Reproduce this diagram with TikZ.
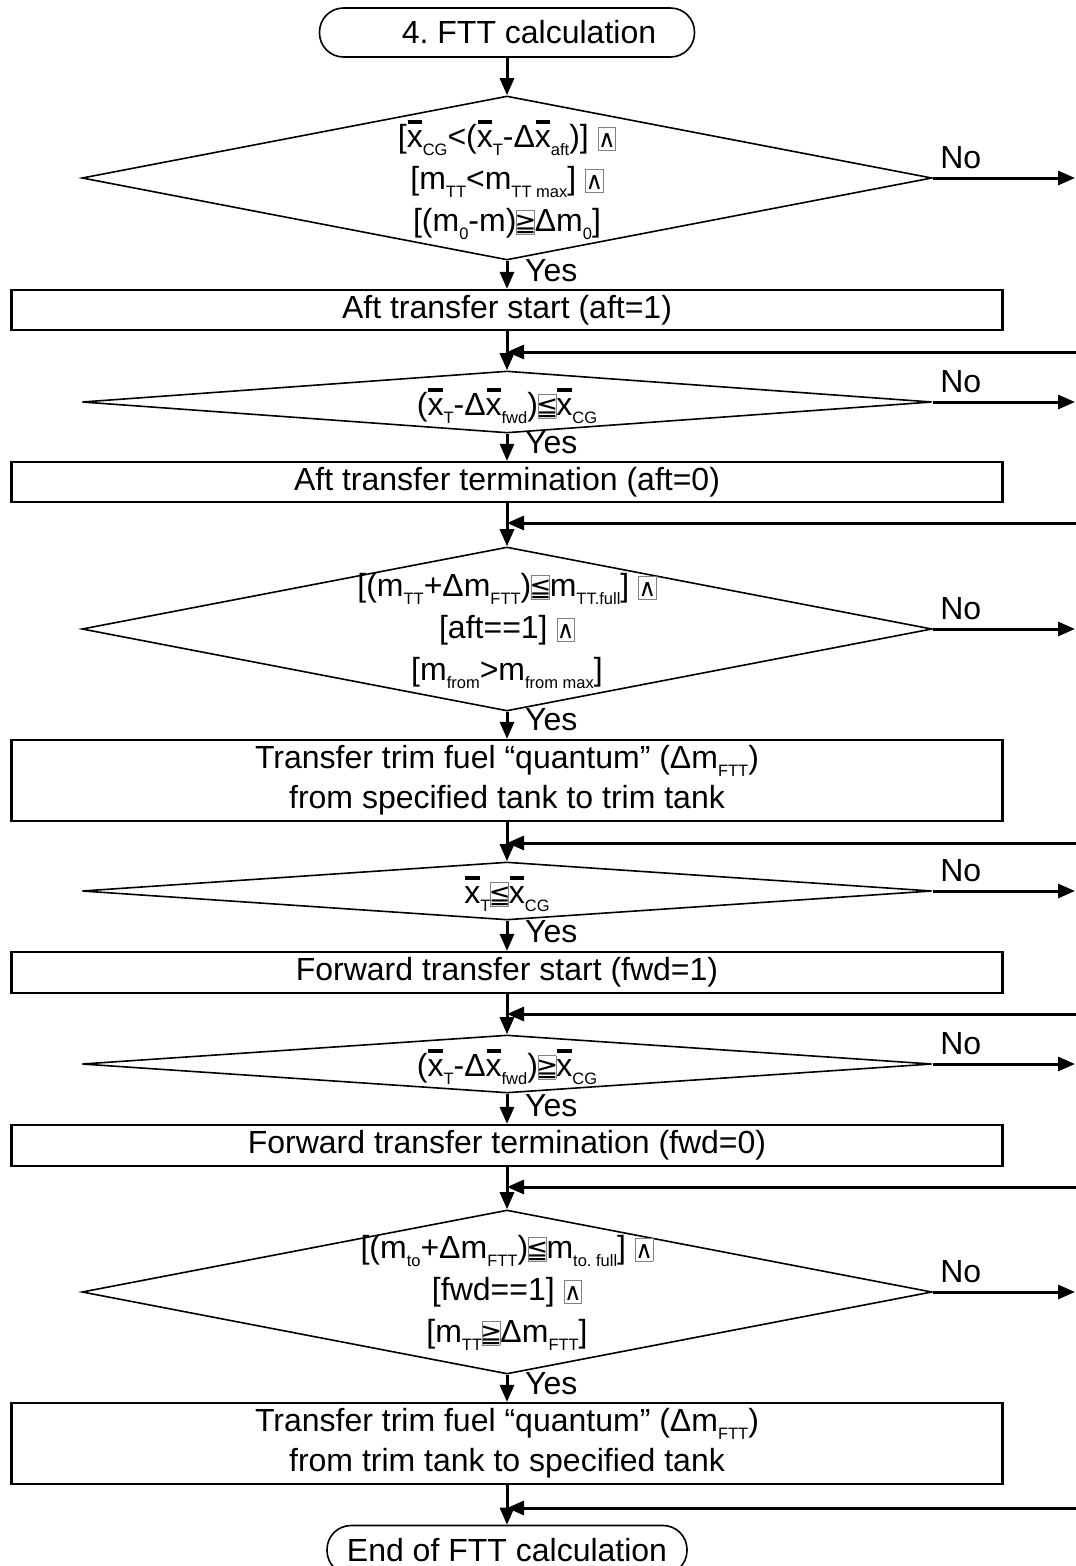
\documentclass[tikz,border=0pt]{standalone}
\usepackage{fontspec}
\setmainfont{Liberation Sans}
\newfontfamily\dejavu{DejaVu Sans}
\usetikzlibrary{shapes.geometric,arrows.meta,calc}
\frenchspacing
\newcommand\sbs[1]{\raisebox{-0.25em}{\fontsize{16.5}{16.5}\selectfont #1}}
\newcommand\xb{\makebox[0pt][l]{\hspace{0.03em}\raisebox{0.75em}{\rule{0.45em}{0.12em}}}x}
\newcommand\band{{\fboxsep=0pt\fboxrule=0.7pt\fcolorbox{gray}{white}{\makebox[17pt]{\rule[-2pt]{0pt}{22pt}{\dejavu\fontsize{24}{24}\selectfont ∧}}}}}
\newcommand\ble{{\fboxsep=0pt\fboxrule=0.7pt\fcolorbox{gray}{white}{\makebox[17pt]{\rule[-2pt]{0pt}{23pt}{\dejavu\fontsize{26}{26}\selectfont ≦}}}}}
\newcommand\bge{{\fboxsep=0pt\fboxrule=0.7pt\fcolorbox{gray}{white}{\makebox[17pt]{\rule[-2pt]{0pt}{23pt}{\dejavu\fontsize{26}{26}\selectfont ≧}}}}}
\begin{document}
\begin{tikzpicture}[x=1pt,y=-1pt,
  every node/.style={font=\fontsize{32}{42}\selectfont},
  arr/.style={draw, line width=3pt, -{Triangle[length=17pt,width=14pt]}},
  proc/.style={draw, rectangle, line width=2.2pt, minimum width=991pt, inner sep=0pt, align=center},
  dec/.style={draw, diamond, line width=1.6pt, minimum width=850pt, inner sep=0pt},
  term/.style={draw, rectangle, rounded corners=24pt, line width=1.6pt, minimum height=49pt, inner sep=0pt},
  lbl/.style={inner sep=0pt}]
\useasboundingbox (0,0) rectangle (1076,1566);
% terminals
\node[term, minimum width=375pt] (start) at (507,32.5) {\hspace*{44pt}4. FTT calculation};
\node[term, minimum width=360pt] (end) at (507,1550) {End of FTT calculation};
% diamonds
\node[dec, minimum height=164pt] (d1) at (507,178) {};
\node[dec, minimum height=62pt] (d2) at (507,402) {};
\node[dec, minimum height=164pt] (d3) at (507,629) {};
\node[dec, minimum height=58pt] (d4) at (507,891) {};
\node[dec, minimum height=58pt] (d5) at (507,1064) {};
\node[dec, minimum height=164pt] (d6) at (507,1292) {};
% diamond texts
\node[lbl, align=center] (t1) at (507,180) {[\xb\sbs{CG}<(\xb\sbs{T}-Δ\xb\sbs{aft})] \band\\\relax
[m\sbs{TT}<m\sbs{TT max}] \band\\\relax
[(m\sbs{0}-m)\bge Δm\sbs{0}]};
\node[lbl] (t2) at (507,406) {(\xb\sbs{T}-Δ\xb\sbs{fwd})\ble\xb\sbs{CG}};
\node[lbl, align=center] (t3) at (507,631) {[(m\sbs{TT}+Δm\sbs{FTT})\ble m\sbs{TT.full}] \band\\\relax
[aft==1] \band\\\relax
[m\sbs{from}>m\sbs{from max}]};
\node[lbl] (t4) at (507,894) {\xb\sbs{T}\ble\xb\sbs{CG}};
\node[lbl] (t5) at (507,1067) {(\xb\sbs{T}-Δ\xb\sbs{fwd})\bge\xb\sbs{CG}};
\node[lbl, align=center] (t6) at (507,1293) {[(m\sbs{to}+Δm\sbs{FTT})\ble m\sbs{to. full}] \band\\\relax
[fwd==1] \band\\\relax
[m\sbs{TT}\bge Δm\sbs{FTT}]};
% process boxes
\node[proc, minimum height=40pt] (b1) at (507,310) {Aft transfer start (aft=1)};
\node[proc, minimum height=40pt] (b2) at (507,482) {Aft transfer termination (aft=0)};
\node[proc, minimum height=81pt, font=\fontsize{32}{40}\selectfont] (b3) at (507,780.5) {Transfer trim fuel “quantum” (Δm\sbs{FTT})\\from specified tank to trim tank};
\node[proc, minimum height=41pt] (b4) at (507,972.5) {Forward transfer start (fwd=1)};
\node[proc, minimum height=41pt] (b5) at (507,1145.5) {Forward transfer termination (fwd=0)};
\node[proc, minimum height=81pt, font=\fontsize{32}{40}\selectfont] (b6) at (507,1443.5) {Transfer trim fuel “quantum” (Δm\sbs{FTT})\\from trim tank to specified tank};
% vertical flow
\draw[arr] (start.south) -- (d1.north);
\draw[arr] (d1.south) -- (b1.north);
\draw[arr] (b1.south) -- (d2.north);
\draw[arr] (d2.south) -- (b2.north);
\draw[arr] (b2.south) -- (d3.north);
\draw[arr] (d3.south) -- (b3.north);
\draw[arr] (b3.south) -- (d4.north);
\draw[arr] (d4.south) -- (b4.north);
\draw[arr] (b4.south) -- (d5.north);
\draw[arr] (d5.south) -- (b5.north);
\draw[arr] (b5.south) -- (d6.north);
\draw[arr] (d6.south) -- (b6.north);
\draw[arr] (b6.south) -- (end.north);
% Yes labels
\foreach \d/\y in {d1/271, d2/443, d3/720, d4/932, d5/1106, d6/1384}
  \node[lbl, anchor=west] (yes\d) at (525,\y) {Yes};
% No exits
\foreach \d in {d1,d2,d3,d4,d5,d6}{
  \coordinate (no\d) at (1075,0 |- \d.east);
  \draw[arr] (\d.east) -- (no\d);
  \node[lbl] (nolbl\d) at ($(\d.east)+(28,-20)$) {No};
}
% returns from the right
\foreach \n/\y/\t in {r1/352/d2, r2/523/d3, r3/843/d4, r4/1014/d5, r5/1187/d6, r6/1508/end}{
  \coordinate (\n) at (1076,\y);
  \draw[arr] (\n) -- (\n -| \t.north);
}
\end{tikzpicture}
\end{document}
